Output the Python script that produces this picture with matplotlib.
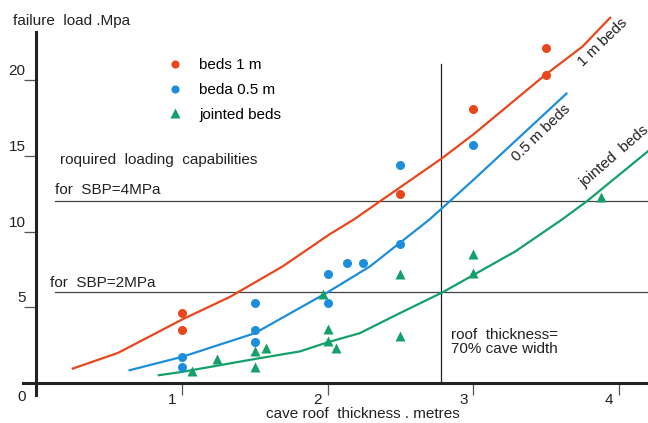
import matplotlib
matplotlib.use("Agg")
import matplotlib.pyplot as plt
from matplotlib.transforms import ScaledTranslation

plt.rcParams['font.family'] = ['Liberation Sans', 'DejaVu Sans']

# measured points (cave roof thickness m, failure load MPa)
beds1_x = [1.0, 1.0, 2.5, 3.0, 3.5, 3.5]
beds1_y = [4.6, 3.5, 12.5, 18.1, 20.3, 22.1]

beds05_x = [1.0, 1.0, 1.5, 1.5, 1.5, 2.0, 2.0, 2.13, 2.24, 2.5, 2.5, 3.0]
beds05_y = [1.7, 1.1, 5.3, 3.5, 2.7, 7.2, 5.3, 7.9, 7.9, 9.2, 14.4, 15.7]

jointed_x = [1.07, 1.24, 1.5, 1.5, 1.58, 1.97, 2.0, 2.0, 2.06, 2.5, 2.5, 3.0, 3.0, 3.88]
jointed_y = [0.8, 1.6, 2.1, 1.1, 2.3, 5.9, 3.6, 2.8, 2.3, 7.2, 3.1, 8.5, 7.3, 12.3]

# fitted curves
fit1_x = [0.25, 0.56, 1.0, 1.33, 1.69, 2.01, 2.18, 2.78, 3.0, 3.49, 3.75, 3.94]
fit1_y = [0.97, 2.0, 4.2, 5.7, 7.7, 9.8, 10.8, 14.8, 16.4, 20.3, 22.2, 24.1]

fit05_x = [0.64, 1.0, 1.5, 2.0, 2.29, 2.7, 3.0, 3.64]
fit05_y = [0.86, 1.74, 3.3, 6.0, 7.7, 10.8, 13.4, 19.1]

fitj_x = [0.84, 1.0, 1.5, 1.81, 2.0, 2.22, 2.47, 2.79, 3.29, 3.61, 3.78, 4.2]
fitj_y = [0.53, 0.75, 1.6, 2.1, 2.7, 3.3, 4.5, 6.0, 8.7, 10.8, 12.0, 15.3]

# required loading lines and roof thickness limit
sbp_levels = [12, 6]
sbp_labels = ["for  SBP=4MPa", "for  SBP=2MPa"]
roof_limit = 2.78

x_ticks = [1, 2, 3, 4]
y_ticks = [5, 10, 15, 20]

RED = '#E9471B'
BLUE = '#1C8EDB'
GREEN = '#14A06A'
FS = 11

fig = plt.figure(figsize=(6.48, 4.23), dpi=100)
ax = fig.add_axes([0, 0, 1, 1])
ax.set_xlim(-0.25, 4.2)
ax.set_ylim(-2.62, 25.27)

# axes drawn as a cross through the origin
for s in ['top', 'right']:
    ax.spines[s].set_visible(False)
ax.spines['left'].set_position(('data', 0))
ax.spines['bottom'].set_position(('data', 0))
ax.spines['left'].set_bounds(-0.77, 23.16)
ax.spines['bottom'].set_bounds(-0.09, 4.2)
for s in ['left', 'bottom']:
    ax.spines[s].set_linewidth(2.2)
    ax.spines[s].set_color('#222222')

ax.set_xticks(x_ticks)
ax.set_xticklabels([str(t) for t in x_ticks])
ax.set_yticks(y_ticks)
ax.set_yticklabels([str(t) for t in y_ticks])
ax.tick_params(axis='both', direction='out', length=8.6, width=0.9,
               color='#555555', labelsize=FS, labelcolor='#222222')
ax.tick_params(axis='y', pad=-0.8)
ax.tick_params(axis='x', pad=-1.5)

dx = ScaledTranslation(-10 / 100, 0, fig.dpi_scale_trans)
for lbl in ax.get_xticklabels():
    lbl.set_transform(lbl.get_transform() + dx)
dy = ScaledTranslation(0, 2 / 100, fig.dpi_scale_trans)
for lbl in ax.get_yticklabels():
    lbl.set_verticalalignment('bottom')
    lbl.set_transform(lbl.get_transform() + dy)

# reference lines
for lev in sbp_levels:
    ax.plot([0.128, 4.2], [lev, lev], color='#444444', lw=0.9)
ax.plot([roof_limit, roof_limit], [0, 21.05], color='#222222', lw=0.9)

# fitted curves
ax.plot(fit1_x, fit1_y, color=RED, lw=1.6)
ax.plot(fit05_x, fit05_y, color=BLUE, lw=1.6)
ax.plot(fitj_x, fitj_y, color=GREEN, lw=1.6)

# data points
ax.plot(beds1_x, beds1_y, 'o', color=RED, ms=6.5, mec='none', label='beds 1 m')
ax.plot(beds05_x, beds05_y, 'o', color=BLUE, ms=6.5, mec='none', label='beda 0.5 m')
ax.plot(jointed_x, jointed_y, '^', color=GREEN, ms=7.5, mec='none', label='jointed beds')

ax.legend(loc='upper left', bbox_to_anchor=(0.258, 0.862), frameon=False,
          fontsize=FS, handlelength=1.0, handletextpad=1.1, borderpad=0,
          borderaxespad=0, labelspacing=0.7, markerscale=0.9)

# annotations
txt = dict(fontsize=FS, color='#222222')
ax.text(-0.161, 23.86, "failure  load .Mpa", ha='left', va='center', **txt)
ax.text(0.162, 14.72, "roquired  loading  capabilities", ha='left', va='center', **txt)
ax.text(0.128, 12.74, sbp_labels[0], ha='left', va='center', **txt)
ax.text(0.093, 6.63, sbp_labels[1], ha='left', va='center', **txt)
ax.text(2.846, 2.72, "roof  thickness=\n70% cave width", ha='left', va='center',
        linespacing=1.0, **txt)
ax.text(2.243, -2.05, "cave roof  thickness . metres", ha='center', va='center', **txt)
ax.text(-0.099, -0.9, "0", ha='center', va='center', **txt)

ax.text(3.89, 22.5, "1 m beds", rotation=44, rotation_mode='anchor',
        ha='center', va='center', **txt)
ax.text(3.47, 16.5, "0.5 m beds", rotation=44, rotation_mode='anchor',
        ha='center', va='center', **txt)
ax.text(3.78, 12.72, "jointed  beds", rotation=41, rotation_mode='anchor',
        ha='left', va='bottom', **txt)

fig.savefig('out.png', dpi=100)
